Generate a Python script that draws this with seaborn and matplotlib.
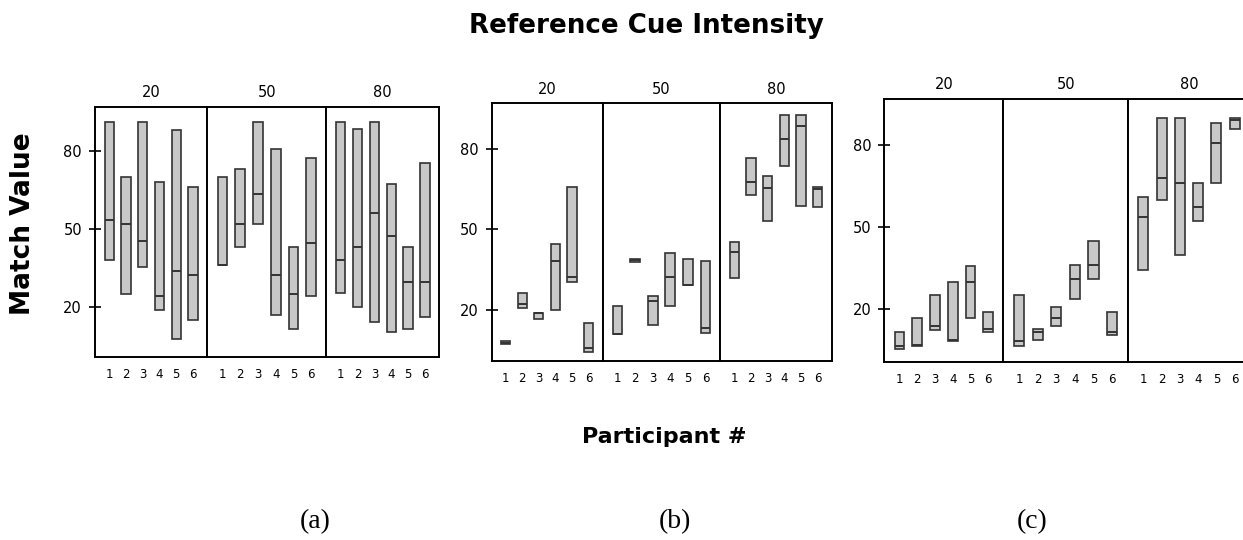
import matplotlib
matplotlib.use("Agg")
import matplotlib.pyplot as plt
import seaborn as sns
import pandas as pd

# ---------------- data ----------------
participants = [1, 2, 3, 4, 5, 6]
intensities = [20, 50, 80]
y_ticks = [20, 50, 80]
panel_labels = ["(a)", "(b)", "(c)"]

# panel (a)
a20_lo = [38.2, 25.1, 35.5, 18.9, 8.0, 15.3]
a20_med = [53.5, 51.8, 45.5, 24.2, 33.8, 32.4]
a20_hi = [91.1, 69.8, 91.1, 68.0, 88.0, 66.2]
a50_lo = [36.4, 43.2, 51.8, 17.0, 11.6, 24.2]
a50_med = [36.4, 51.8, 63.4, 32.4, 25.1, 44.6]
a50_hi = [69.8, 73.0, 91.1, 80.6, 43.2, 77.1]
a80_lo = [25.5, 20.1, 14.3, 10.6, 11.6, 16.2]
a80_med = [38.2, 43.2, 56.3, 47.4, 29.8, 29.8]
a80_hi = [91.1, 88.3, 91.1, 67.1, 43.2, 75.3]

# panel (b)
b20_lo = [7.2, 20.5, 16.4, 20.0, 30.4, 4.3]
b20_med = [7.7, 22.3, 18.7, 38.2, 32.3, 5.9]
b20_hi = [8.3, 26.3, 18.7, 44.4, 65.9, 15.2]
b50_lo = [11.0, 37.9, 14.4, 21.5, 29.2, 11.5]
b50_med = [11.0, 38.5, 23.3, 32.1, 29.2, 13.3]
b50_hi = [21.5, 39.0, 25.3, 41.0, 39.0, 38.0]
b80_lo = [31.9, 62.7, 53.2, 73.6, 58.8, 58.1]
b80_med = [41.4, 67.4, 65.2, 83.6, 88.3, 64.9]
b80_hi = [45.3, 76.5, 69.8, 92.7, 92.7, 65.9]

# panel (c)
c20_lo = [5.7, 6.7, 12.6, 8.5, 16.8, 11.7]
c20_med = [6.6, 7.1, 13.9, 8.8, 29.9, 12.9]
c20_hi = [11.8, 16.8, 25.1, 30.2, 35.7, 19.1]
c50_lo = [6.6, 9.0, 14.0, 23.7, 31.1, 10.7]
c50_med = [8.3, 11.7, 17.0, 31.0, 36.1, 11.6]
c50_hi = [25.1, 12.8, 21.0, 36.2, 44.9, 19.1]
c80_lo = [34.3, 60.1, 40.0, 52.3, 66.1, 86.0]
c80_med = [53.8, 68.0, 66.2, 57.4, 81.0, 89.4]
c80_hi = [61.1, 90.1, 90.1, 66.1, 88.3, 90.0]

panels = [
    [(a20_lo, a20_med, a20_hi), (a50_lo, a50_med, a50_hi), (a80_lo, a80_med, a80_hi)],
    [(b20_lo, b20_med, b20_hi), (b50_lo, b50_med, b50_hi), (b80_lo, b80_med, b80_hi)],
    [(c20_lo, c20_med, c20_hi), (c50_lo, c50_med, c50_hi), (c80_lo, c80_med, c80_hi)],
]

# ---------------- layout (pixels) ----------------
W, H = 1243, 540
panel_geom = [
    # facet edges (x), top, bottom
    ([95, 207.3, 326.3, 439.3], 106.7, 357.3),
    ([491.7, 602.7, 720.3, 831.7], 103.3, 361.0),
    ([884.3, 1003.3, 1128.0, 1250.0], 99.0, 361.7),
]
label_x = [315, 675, 1032]

sns.set_style("white")
plt.rcParams["font.family"] = ["DejaVu Sans"]
plt.rcParams["text.color"] = "black"
plt.rcParams["xtick.color"] = "black"
plt.rcParams["ytick.color"] = "black"
plt.rcParams["axes.labelcolor"] = "black"

fig = plt.figure(figsize=(W / 100, H / 100), dpi=100)
fig.patch.set_facecolor("white")

FILL = "#c8c8c8"
EDGE = "#333333"


def make_frame(lo, med, hi):
    rows = []
    for p, l, m, h in zip(participants, lo, med, hi):
        # box spans low..high with the median line (quartiles = low / high)
        for v in (l, l, m, h, h):
            rows.append({"participant": p, "value": v})
    return pd.DataFrame(rows)


for pi, (edges, top, bot) in enumerate(panel_geom):
    for fi, inten in enumerate(intensities):
        l, r = edges[fi], edges[fi + 1]
        ax = fig.add_axes([l / W, 1 - bot / H, (r - l) / W, (bot - top) / H])
        lo, med, hi = panels[pi][fi]
        df = make_frame(lo, med, hi)
        sns.boxplot(
            data=df, x="participant", y="value", order=participants, ax=ax,
            whis=0, width=0.55, color=FILL, saturation=1, linecolor=EDGE,
            linewidth=1.2, showcaps=False, fliersize=0,
            medianprops=dict(color=EDGE, linewidth=1.4),
        )
        ax.set_ylim(0.9, 96.9)
        ax.set_xlim(-0.85, 5.85)
        ax.set_xlabel("")
        ax.set_ylabel("")
        ax.set_title(str(inten), fontsize=10.5, pad=7, color="black")
        ax.tick_params(axis="x", length=0, labelsize=8.5, pad=8)
        if fi == 0:
            ax.set_yticks(y_ticks)
            ax.tick_params(axis="y", direction="inout", length=8.6, width=1.2,
                           labelsize=10.5, pad=5, left=True)
        else:
            ax.set_yticks([])
        for s in ax.spines.values():
            s.set_visible(True)
            s.set_color("black")
            s.set_linewidth(1.4)

fig.text(646.5 / W, 1 - 32.7 / H, "Reference Cue Intensity", ha="center",
         va="baseline", fontsize=18.8, fontweight="bold")
fig.text(23.3 / W, 1 - 224 / H, "Match Value", rotation=90, ha="center",
         va="center", fontsize=19, fontweight="bold")
fig.text(664.5 / W, 1 - 443 / H, "Participant #", ha="center", va="baseline",
         fontsize=16, fontweight="bold")
for x, lab in zip(label_x, panel_labels):
    fig.text(x / W, 1 - 528 / H, lab, ha="center", va="baseline",
             fontsize=20, family=["Liberation Serif"])

fig.savefig("out.png", dpi=100, facecolor="white")
